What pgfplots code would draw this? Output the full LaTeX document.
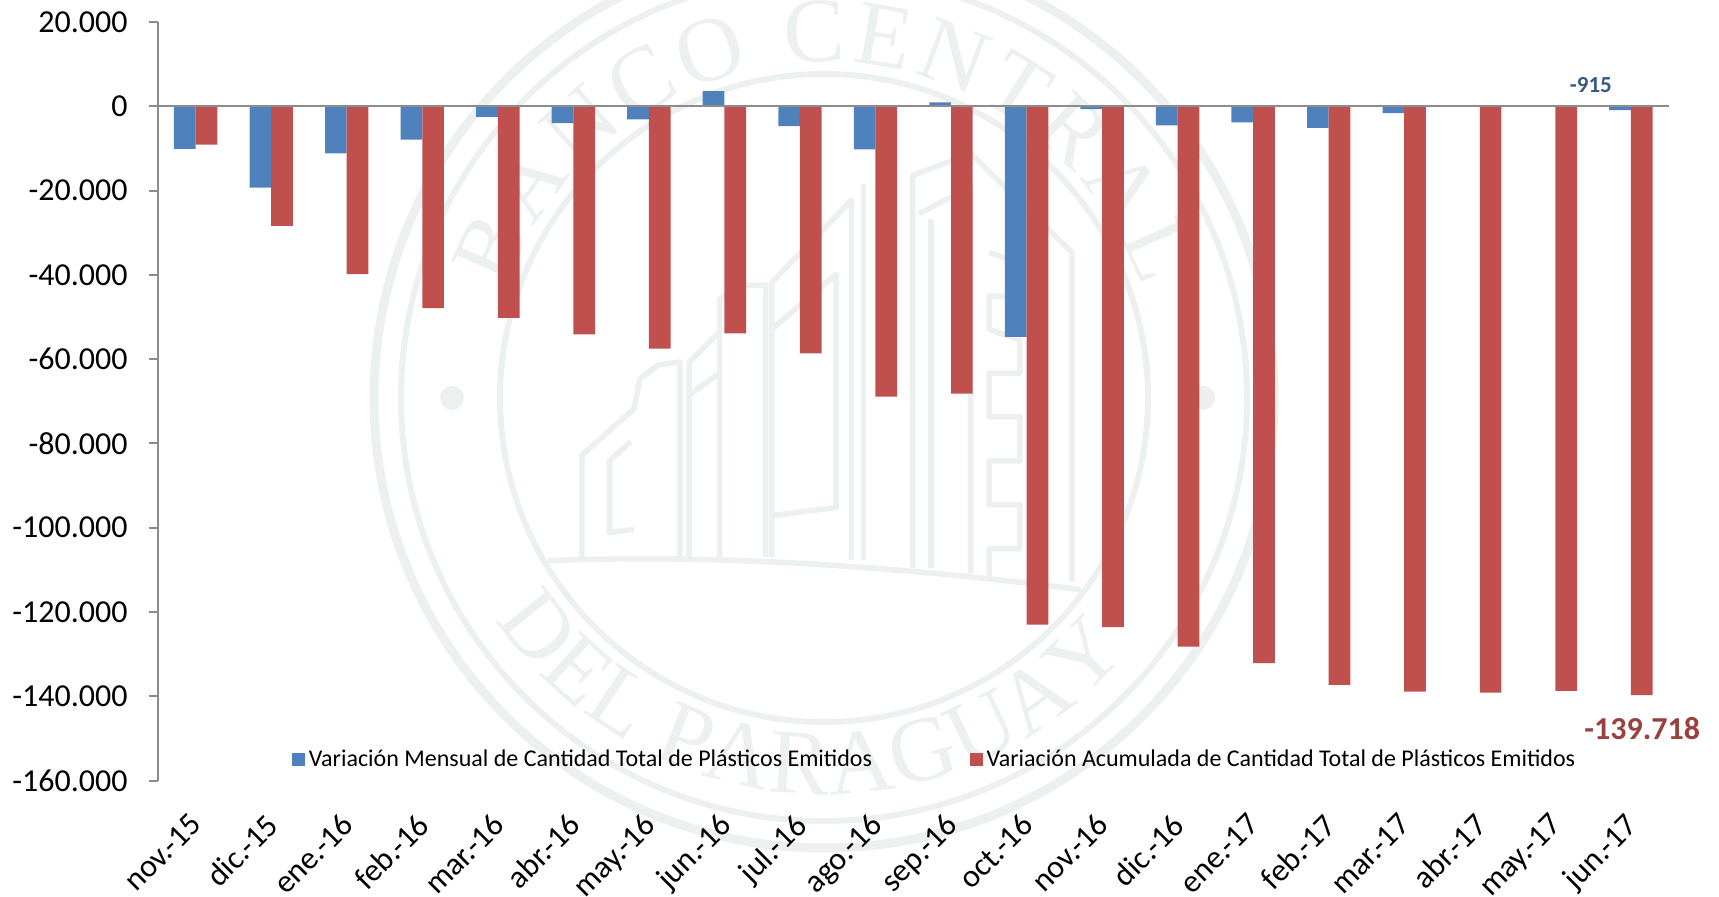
\documentclass[border=0pt]{standalone}
\usepackage{pgfplots}
\pgfplotsset{compat=1.18}
\usepackage{fontspec}
\setmainfont{Carlito}
\newfontfamily\wmfont{Liberation Serif}
\usetikzlibrary{decorations.text}
\definecolor{wm}{HTML}{ECF0EF}
\definecolor{bluebar}{HTML}{4F81BD}
\definecolor{redbar}{HTML}{C0504D}
\definecolor{axgray}{HTML}{8C8C8C}
\begin{document}
\begin{tikzpicture}
\useasboundingbox (0,0) rectangle (859.5pt,448pt);
% watermark seal
\begin{scope}[shift={(412pt,249pt)},wm]
  \draw[line width=4.5pt] (0,0) circle (225pt);
  \draw[line width=3pt] (0,0) circle (211.5pt);
  \draw[line width=3pt] (0,0) circle (162pt);
  \fill (-186pt,0) circle (6pt);
  \fill (189.5pt,0) circle (6pt);
  \path[postaction={decorate,decoration={text along path,text align={fit to path},text color=wm,text={|\wmfont\fontsize{46}{46}\selectfont|BANCO CENTRAL}}}]
    (161:168pt) arc[start angle=161,end angle=19,radius=168pt];
  \path[postaction={decorate,decoration={text along path,text align={fit to path},text color=wm,text={|\wmfont\fontsize{46}{46}\selectfont|DEL PARAGUAY}}}]
    (214:198pt) arc[start angle=214,end angle=320,radius=198pt];
\end{scope}
\begin{scope}[shift={(170pt,448pt)},x=0.3062pt,y=-0.2743pt,wm,line width=2.8pt,line join=round]
  \draw (340,1022) .. controls (600,1010) and (900,1030) .. (1210,1075);
  \draw (395,1015)--(395,830)--(480,745)--(490,690)--(520,665)--(555,660)--(555,1015);
  \draw (440,975)--(440,840)--(475,805) (445,970)--(480,965);
  \draw (570,1015)--(570,660)--(620,605) (570,720)--(620,680);
  \draw (620,1015)--(620,545)--(650,520)--(695,520)--(695,1015);
  \draw (705,1015)--(705,515)--(835,365)--(835,1020);
  \draw (705,600)--(810,500)--(810,925)--(705,940);
  \draw (855,1020)--(855,335);
  \draw (935,1035)--(935,320)--(1030,280)--(1195,460)--(1195,1060);
  \draw (945,390)--(1030,340)--(1030,1045) (965,1035)--(965,400);
  \draw (1060,460)--(1110,480)--(1110,540)--(1060,540)--(1060,600)--(1110,620)--(1110,680)--(1060,680)--(1060,760)--(1110,760)--(1110,840)--(1060,840)--(1060,920)--(1110,920)--(1110,1000)--(1060,1000)--(1060,1050);
\end{scope}
\begin{axis}[
  at={(78.95pt,57.7pt)},anchor=south west,
  scale only axis,width=755.35pt,height=379.3pt,
  clip=false,
  ybar=0pt,bar width=10.85pt,
  xmin=-0.5,xmax=19.5,ymin=-160000,ymax=20000,
  axis y line=left,axis x line=bottom,
  axis line style={-,draw=axgray,line width=1pt},
  x axis line style={draw=none},
  xtick={0,...,19},
  xticklabels={nov.-15,dic.-15,ene.-16,feb.-16,mar.-16,abr.-16,may.-16,jun.-16,jul.-16,ago.-16,sep.-16,oct.-16,nov.-16,dic.-16,ene.-17,feb.-17,mar.-17,abr.-17,may.-17,jun.-17},
  x tick style={draw=none},
  xticklabel style={font=\fontsize{16}{16}\selectfont,rotate=45,anchor=north east,inner sep=0pt,xshift=-10.1pt,yshift=-5.2pt},
  ytick={-160000,-140000,-120000,-100000,-80000,-60000,-40000,-20000,0,20000},
  yticklabels={-160.000,-140.000,-120.000,-100.000,-80.000,-60.000,-40.000,-20.000,0,20.000},
  y tick style={draw=axgray,line width=1pt},
  tick align=outside,major tick length=4.5pt,
  yticklabel style={font=\fontsize{16}{16}\selectfont,anchor=east,inner sep=0pt,xshift=-10.5pt},
  legend columns=2,
  legend style={at={(0.5148,0.028)},anchor=center,draw=none,fill=none,font=\fontsize{12}{12}\selectfont,
    /tikz/column 1/.style={column sep=0pt},/tikz/column 2/.style={column sep=46.7pt},/tikz/column 3/.style={column sep=0pt},inner sep=0pt},
]
\addplot[fill=bluebar,draw=none,legend image code/.code={\fill[fill=bluebar] (-1pt,-3.25pt) rectangle (5.5pt,3.25pt);}] coordinates {
(0,-10100)(1,-19300)(2,-11200)(3,-7900)(4,-2500)(5,-4000)(6,-3100)(7,3600)(8,-4700)(9,-10200)
(10,900)(11,-54700)(12,-700)(13,-4500)(14,-3800)(15,-5100)(16,-1600)(17,-100)(18,300)(19,-915)};
\addplot[fill=redbar,draw=none,legend image code/.code={\fill[fill=redbar] (-1pt,-3.25pt) rectangle (5.5pt,3.25pt);}] coordinates {
(0,-9100)(1,-28400)(2,-39800)(3,-47900)(4,-50200)(5,-54100)(6,-57500)(7,-53900)(8,-58600)(9,-68900)
(10,-68200)(11,-123000)(12,-123600)(13,-128200)(14,-132100)(15,-137300)(16,-138900)(17,-139100)(18,-138700)(19,-139718)};
\legend{Variación Mensual de Cantidad Total de Plásticos Emitidos,Variación Acumulada de Cantidad Total de Plásticos Emitidos}
\draw[axgray,line width=1pt] (axis cs:-0.5,0)--(axis cs:19.5,0);
\node[font=\fontsize{11.5}{11.5}\selectfont\bfseries,text=bluebar!70!black] at (axis cs:18.47,4940) {-915};
\node[font=\fontsize{16}{16}\selectfont\bfseries,text=redbar!80!black] at (axis cs:19.15,-147700) {-139.718};
\end{axis}
\end{tikzpicture}
\end{document}
